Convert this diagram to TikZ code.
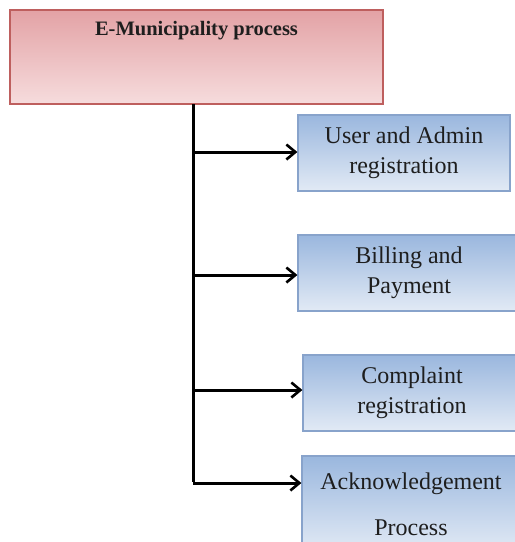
\documentclass[tikz,border=0pt]{standalone}
\usepackage{fontspec}
\setmainfont{Liberation Serif}
\usetikzlibrary{arrows.meta}
\definecolor{pinktop}{HTML}{E3A2A5}
\definecolor{pinkbot}{HTML}{F6DCDD}
\definecolor{pinkline}{HTML}{BE5F5E}
\definecolor{bluetop}{HTML}{9AB7DE}
\definecolor{bluebot}{HTML}{E2EAF5}
\definecolor{blueline}{HTML}{88A3CB}
\definecolor{inktext}{HTML}{1E1E1E}
\tikzset{
  headbox/.style={draw=pinkline, line width=1.2pt, top color=pinktop, bottom color=pinkbot,
    rectangle, inner sep=0pt},
  taskbox/.style={draw=blueline, line width=1.2pt, top color=bluetop, bottom color=bluebot,
    rectangle, inner sep=0pt, align=center, text=inktext,
    font=\fontsize{24}{30}\selectfont},
  branch/.style={line width=3pt, -{Straight Barb[length=9pt, width=15pt, line width=2.6pt]}},
  trunkline/.style={line width=3pt}
}
\begin{document}
\begin{tikzpicture}[x=1pt, y=-1pt]
\useasboundingbox (0,0) rectangle (515,542);
\begin{scope}
\clip (0,0) rectangle (515,542);
% header box and its title
\node[headbox, minimum width=373pt, minimum height=94pt] (top) at (196.5,57) {};
\node[anchor=base, text=inktext, font=\fontsize{20.5}{24}\selectfont\bfseries] (title) at (196.5,35) {E-Municipality process};

% the four process boxes
\node[taskbox, minimum width=212pt, minimum height=76pt] (user) at (404,153) {User and Admin\\registration};
\node[taskbox, minimum width=222pt, minimum height=76pt] (bill) at (409,273) {Billing and\\Payment};
\node[taskbox, minimum width=218pt, minimum height=76pt] (comp) at (412,393) {Complaint\\registration};
\node[taskbox, minimum width=218pt, minimum height=96pt] (ack) at (411,504) {Acknowledgement\\[16pt]Process};

% trunk and branches
\coordinate (trunk) at (193,104);
\coordinate (trunkend) at (193,483);
\draw[trunkline] (trunk) -- ([yshift=1.5pt]trunkend);
\draw[branch] (trunk |- 0,152) -- (user.west |- 0,152);
\draw[branch] (trunk |- 0,275) -- (bill.west |- 0,275);
\draw[branch] (trunk |- 0,390) -- (comp.west |- 0,390);
\draw[branch] (trunkend) -- (ack.west |- trunkend);
\end{scope}
\end{tikzpicture}
\end{document}
